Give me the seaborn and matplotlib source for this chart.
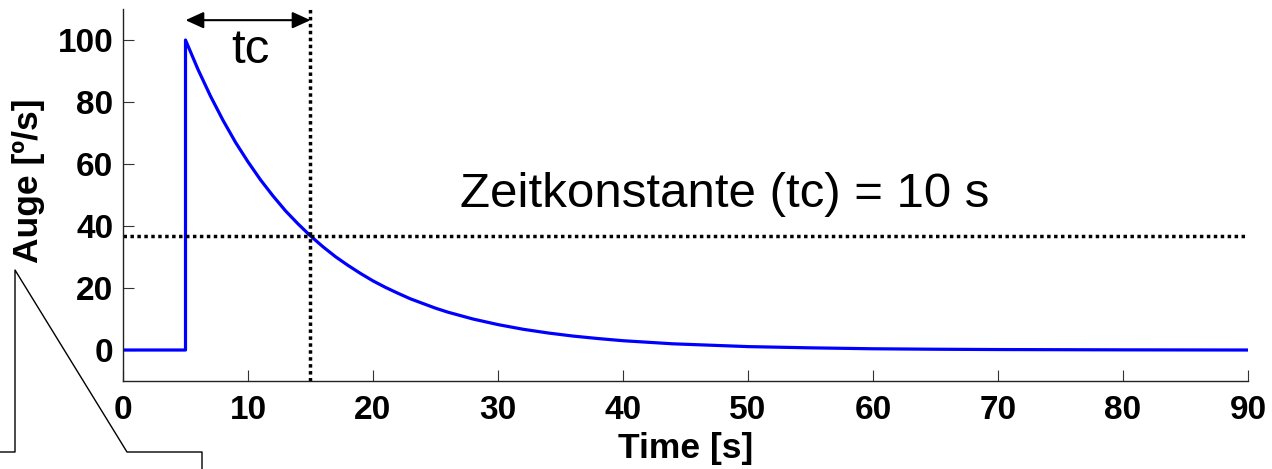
import matplotlib
matplotlib.use("Agg")
import matplotlib.pyplot as plt
from matplotlib.lines import Line2D
import seaborn as sns
import pandas as pd

# Eye velocity response to a velocity step at t = 5 s
time_s = [0, 5, 5, 6, 7, 8, 9, 10, 11, 12, 13, 14, 15, 16, 17, 18, 19, 20,
          21, 22, 23, 24, 25, 26, 27, 28, 29, 30, 32, 34, 36, 38, 40, 42,
          44, 46, 48, 50, 55, 60, 65, 70, 80, 90]
eye_velocity = [0, 0, 100, 90.5, 81.9, 74.1, 67.0, 60.7, 54.9, 49.7, 44.9,
                40.7, 36.8, 33.3, 30.1, 27.3, 24.7, 22.3, 20.2, 18.3, 16.5,
                15.0, 13.5, 12.2, 11.1, 10.0, 9.1, 8.2, 6.7, 5.5, 4.5, 3.7,
                3.0, 2.5, 2.0, 1.7, 1.4, 1.1, 0.7, 0.4, 0.25, 0.15, 0.05, 0.0]

step_time = 5
time_constant = 10
level_at_tc = 36.8

x_ticks = [0, 10, 20, 30, 40, 50, 60, 70, 80, 90]
y_ticks = [0, 20, 40, 60, 80, 100]

df = pd.DataFrame({"Time [s]": time_s, "Auge": eye_velocity})

sns.set_theme(style="white")
plt.rcParams["font.family"] = ["Liberation Sans", "DejaVu Sans"]
plt.rcParams["text.color"] = "black"
plt.rcParams["axes.labelcolor"] = "black"
plt.rcParams["xtick.color"] = "black"
plt.rcParams["ytick.color"] = "black"

fig = plt.figure(figsize=(12.72, 4.69), dpi=100)
ax = fig.add_axes([0.0967, 0.1876, 0.8844, 0.7932])

sns.lineplot(data=df, x="Time [s]", y="Auge", estimator=None, sort=False,
             color="#0000ff", linewidth=2.3, ax=ax)

dot = (0, (1, 1))
ax.axhline(level_at_tc, color="black", linewidth=2.5, linestyle=dot)
ax.axvline(step_time + time_constant, color="black", linewidth=2.5, linestyle=dot)

ax.annotate("", xy=(step_time, 106.4), xytext=(step_time + time_constant, 106.4),
            arrowprops=dict(arrowstyle="<|-|>,head_length=1.1,head_width=0.5",
                            mutation_scale=10, color="black", lw=1.5,
                            shrinkA=0, shrinkB=0))
ax.text(10.2, 92.5, "tc", fontsize=35.5, ha="center", va="baseline")
ax.text(27, 46, "Zeitkonstante (tc) = 10 s", fontsize=35.5, ha="left", va="baseline")

ax.set_xlim(0, 90)
ax.set_ylim(-10, 110)
ax.set_xticks(x_ticks)
ax.set_yticks(y_ticks)
ax.tick_params(direction="in", length=8, width=0.8, color="#333333",
               labelcolor="black", labelsize=24, bottom=True, left=True)
ax.tick_params(axis="x", pad=10)
ax.tick_params(axis="y", pad=7)
for lab in ax.get_xticklabels() + ax.get_yticklabels():
    lab.set_fontweight("bold")

for side in ["top", "right"]:
    ax.spines[side].set_visible(False)
for side in ["left", "bottom"]:
    ax.spines[side].set_color("#222222")
    ax.spines[side].set_linewidth(1.0)

ax.set_xlabel("Time [s]", fontsize=25.5, fontweight="bold", color="black")
ax.set_ylabel("Auge [º/s]", fontsize=25.5, fontweight="bold", color="black")
ax.xaxis.set_label_coords(0.5, -0.137)
ax.yaxis.set_label_coords(-0.0693, 0.5376)

# Stimulus sketch in the lower-left corner (figure pixel coordinates)
W, H = 1272, 469
px = [0, 15, 15, 127, 202, 202]
py = [452, 452, 270, 452, 452, 469]
fig.add_artist(Line2D([p / W for p in px], [1 - p / H for p in py],
                      transform=fig.transFigure, color="black", linewidth=1.0))

fig.savefig("out.png", dpi=100)
